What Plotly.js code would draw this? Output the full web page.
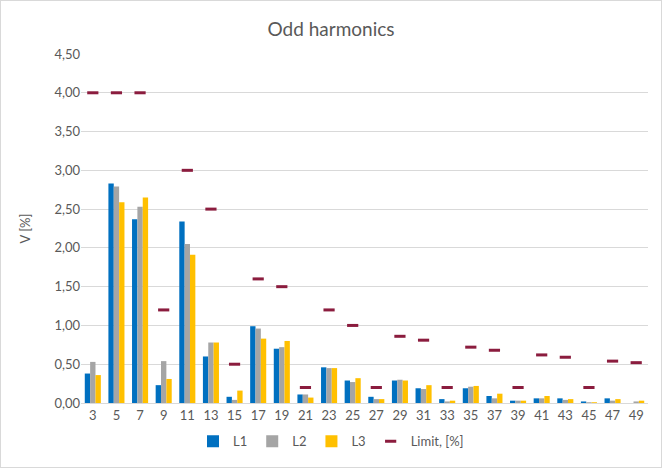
<!DOCTYPE html>
<html>
<head>
<meta charset="utf-8">
<script src="https://cdn.plot.ly/plotly-3.0.1.min.js"></script>
<style>
  body { margin: 0; background: #fff; }
  #chart { width: 662px; height: 468px; box-sizing: border-box; border: 1px solid #d9d9d9; }
</style>
</head>
<body>
<div id="chart"></div>
<script>
// odd harmonic orders
const harmonics = ['3','5','7','9','11','13','15','17','19','21','23','25',
                   '27','29','31','33','35','37','39','41','43','45','47','49'];

// measured values, V [%]
const l1 = [0.38, 2.83, 2.37, 0.23, 2.34, 0.60, 0.08, 0.99, 0.70, 0.11, 0.46, 0.29,
            0.08, 0.29, 0.19, 0.05, 0.19, 0.09, 0.03, 0.06, 0.06, 0.02, 0.06, 0.00];
const l2 = [0.53, 2.79, 2.53, 0.54, 2.05, 0.78, 0.04, 0.96, 0.72, 0.11, 0.45, 0.27,
            0.05, 0.30, 0.18, 0.02, 0.21, 0.06, 0.03, 0.06, 0.04, 0.01, 0.03, 0.02];
const l3 = [0.36, 2.59, 2.65, 0.31, 1.91, 0.78, 0.16, 0.83, 0.80, 0.07, 0.45, 0.32,
            0.05, 0.29, 0.23, 0.03, 0.22, 0.12, 0.03, 0.09, 0.05, 0.01, 0.05, 0.03];

// limits per harmonic, [%]
const limit = [4.00, 4.00, 4.00, 1.20, 3.00, 2.50, 0.50, 1.60, 1.50, 0.20, 1.20, 1.00,
               0.20, 0.86, 0.81, 0.20, 0.72, 0.68, 0.20, 0.62, 0.59, 0.20, 0.54, 0.52];

const font = 'Lato, "Open Sans", sans-serif';

const data = [
  { name: 'L1', x: harmonics, y: l1, type: 'bar', marker: { color: '#0070C0' } },
  { name: 'L2', x: harmonics, y: l2, type: 'bar', marker: { color: '#A5A5A5' } },
  { name: 'L3', x: harmonics, y: l3, type: 'bar', marker: { color: '#FFC000' } },
  {
    name: 'Limit, [%]',
    x: harmonics,
    y: limit,
    type: 'scatter',
    mode: 'markers',
    marker: {
      symbol: 'line-ew-open',
      size: 8,
      color: '#8B1C3E',
      line: { color: '#8B1C3E', width: 3 },
    },
  },
];

const layout = {
  width: 660,
  height: 466,
  margin: { l: 80, r: 13, t: 53, b: 64 },
  paper_bgcolor: '#fff',
  plot_bgcolor: '#fff',
  separators: ',.',
  font: { family: font, color: '#595959', size: 13 },
  title: {
    text: 'Odd harmonics',
    font: { family: font, size: 19, color: '#595959' },
    x: 0.5,
    xanchor: 'center',
    y: 0.94,
    yanchor: 'middle',
  },
  barmode: 'group',
  bargap: 0.32,
  bargroupgap: 0,
  xaxis: {
    type: 'category',
    range: [-0.5, harmonics.length - 0.5],
    showgrid: false,
    showline: true,
    linecolor: '#d9d9d9',
    linewidth: 1,
    ticks: '',
    tickfont: { size: 13, color: '#595959' },
  },
  yaxis: {
    title: { text: 'V [%]', font: { size: 13, color: '#595959' }, standoff: 20 },
    range: [0, 4.5],
    dtick: 0.5,
    tickformat: '.2f',
    showgrid: true,
    gridcolor: '#d9d9d9',
    zeroline: false,
    showline: false,
    ticks: '',
    ticklen: 0,
    tickfont: { size: 13, color: '#595959' },
  },
  showlegend: true,
  legend: {
    orientation: 'h',
    xref: 'container',
    yref: 'container',
    x: 0.5,
    xanchor: 'center',
    y: 0.055,
    yanchor: 'middle',
    font: { size: 13, color: '#595959' },
    itemwidth: 30,
    tracegroupgap: 0,
  },
};

Plotly.newPlot('chart', data, layout, { displayModeBar: false, staticPlot: true });
</script>
</body>
</html>
